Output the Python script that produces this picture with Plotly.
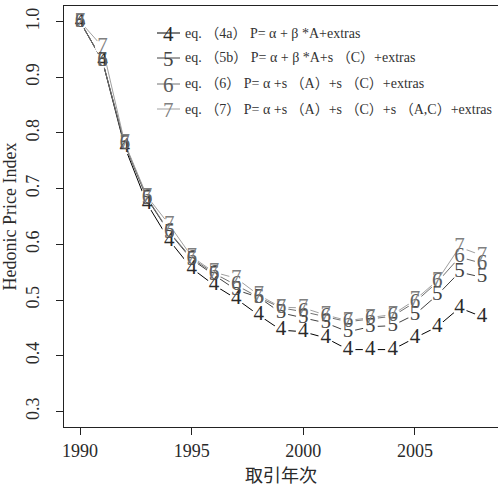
import plotly.graph_objects as go

years = list(range(1990, 2009))
s4 = [1.0, 0.93, 0.775, 0.673, 0.607, 0.557, 0.527, 0.502, 0.473, 0.446, 0.443, 0.432, 0.411, 0.411, 0.411, 0.432, 0.452, 0.486, 0.470]
s5 = [1.0, 0.93, 0.780, 0.682, 0.621, 0.573, 0.545, 0.518, 0.505, 0.477, 0.468, 0.459, 0.443, 0.452, 0.454, 0.474, 0.509, 0.550, 0.541]
s6 = [1.0, 0.93, 0.780, 0.684, 0.622, 0.575, 0.548, 0.527, 0.505, 0.486, 0.479, 0.470, 0.461, 0.466, 0.471, 0.496, 0.532, 0.577, 0.566]
s7 = [1.0, 0.955, 0.782, 0.686, 0.635, 0.578, 0.550, 0.539, 0.509, 0.487, 0.486, 0.473, 0.463, 0.468, 0.474, 0.500, 0.535, 0.595, 0.580]
series = [s4, s5, s6, s7]
symbols = ["4", "5", "6", "7"]
colors = ["#000000", "#404040", "#707070", "#a0a0a0"]
digit_colors = ["#2a2a2a", "#444444", "#606060", "#808080"]
labels = [
    "eq. （4a） P= α + β *A+extras",
    "eq. （5b） P= α + β *A+s （C）+extras",
    "eq. （6） P= α +s （A）+s （C）+extras",
    "eq. （7） P= α +s （A）+s （C）+s （A,C）+extras",
]
xticks = [1990, 1995, 2000, 2005]
yticks = [0.3, 0.4, 0.5, 0.6, 0.7, 0.8, 0.9, 1.0]
yticktext = ["0.3", "0.4", "0.5", "0.6", "0.7", "0.8", "0.9", "1.0"]

SERIF = "Liberation Serif, DejaVu Serif, Noto Sans CJK JP, serif"
W, H = 498, 489
ML, MR, MT, MB = 64, 0, 6, 62

fig = go.Figure()
# lines with white gaps around the points (R type="b")
for ys, col in zip(series, colors):
    fig.add_trace(go.Scatter(
        x=years, y=ys, mode="lines+markers",
        line=dict(color=col, width=1),
        marker=dict(color="white", size=15, line=dict(width=0)),
        hoverinfo="skip", showlegend=False))
# digit plotting characters
for ys, col, sym in zip(series, digit_colors, symbols):
    fig.add_trace(go.Scatter(
        x=years, y=ys, mode="text", text=[sym] * len(ys),
        textposition="middle center",
        textfont=dict(family=SERIF, size=21, color=col),
        hoverinfo="skip", showlegend=False))

# manual legend
pw, ph = W - ML - MR, H - MT - MB
def px(xp):
    return (xp - ML) / pw
def py(yp):
    return (H - MB - yp) / ph

shapes, annots = [], []
row_y = [33, 58, 84, 109]
for yy, col, dcol, sym, lab in zip(row_y, colors, digit_colors, symbols, labels):
    shapes.append(dict(type="line", xref="paper", yref="paper",
                       x0=px(157), x1=px(180), y0=py(yy), y1=py(yy),
                       line=dict(color=col, width=1)))
    annots.append(dict(xref="paper", yref="paper", x=px(168.5), y=py(yy + 1),
                       text=sym, showarrow=False, xanchor="center", yanchor="middle",
                       font=dict(family=SERIF, size=21, color=dcol)))
    annots.append(dict(xref="paper", yref="paper", x=px(183), y=py(yy),
                       text=lab, showarrow=False, xanchor="left", yanchor="middle",
                       font=dict(family=SERIF, size=14, color="#333333")))

fig.update_layout(
    width=W, height=H,
    margin=dict(l=ML, r=MR, t=MT, b=MB),
    paper_bgcolor="white", plot_bgcolor="white",
    font=dict(family=SERIF, color="#2a2a2a", size=18),
    shapes=shapes, annotations=annots,
    xaxis=dict(range=[1989.28, 2008.72], tickvals=xticks, ticks="outside",
               ticklen=7, tickcolor="#222", showgrid=False, zeroline=False,
               showline=True, mirror=True, linecolor="#222", linewidth=1,
               tickfont=dict(size=18, family=SERIF),
               title=dict(text="取引年次", standoff=4,
                          font=dict(size=18, family="Noto Sans CJK JP"))),
    yaxis=dict(range=[0.272, 1.028], tickvals=yticks, ticktext=yticktext,
               ticks="outside", ticklen=7, tickcolor="#222", tickangle=-90,
               ticklabelstandoff=10,
               showgrid=False, zeroline=False,
               showline=True, mirror=True, linecolor="#222", linewidth=1,
               tickfont=dict(size=18, family=SERIF),
               title=dict(text="Hedonic Price Index", standoff=2,
                          font=dict(size=18, family=SERIF))),
)
fig.write_html("out.html")
